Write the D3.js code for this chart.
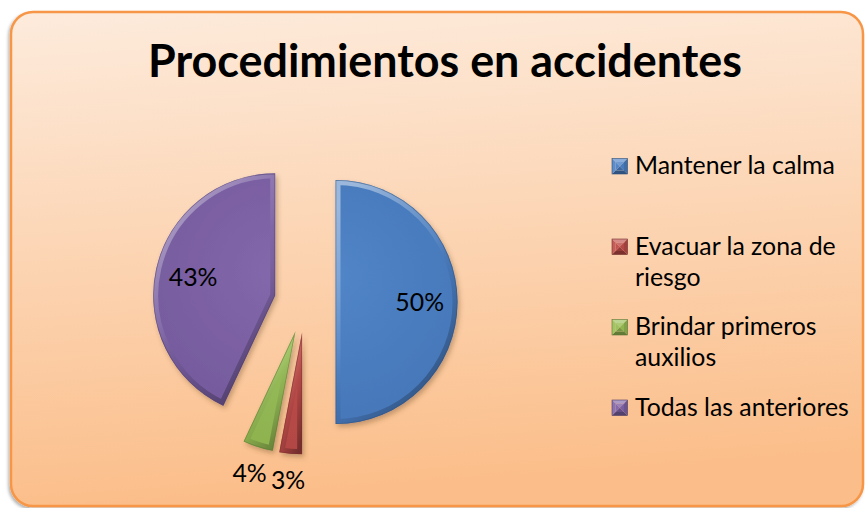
<!DOCTYPE html>
<html>
<head>
<meta charset="utf-8">
<script src="https://cdn.jsdelivr.net/npm/d3@7"></script>
<style>
  html, body { margin: 0; padding: 0; background: #ffffff; }
  svg { display: block; }
</style>
</head>
<body>
<svg id="chart" width="865" height="508"></svg>
<script>
// Survey answers: what to do in case of an accident
const categories = [
  "Mantener la calma",
  "Evacuar la zona de riesgo",
  "Brindar primeros auxilios",
  "Todas las anteriores"
];
const values = [50, 3, 4, 43];
const colors = ["#4A80C6", "#BE4B48", "#97BE55", "#7E62A8"];
const title = "Procedimientos en accidentes";

const W = 865, H = 508;
const FONT = "Lato, 'Open Sans', 'DejaVu Sans', sans-serif";

const svg = d3.select("#chart");
const defs = svg.append("defs");

// ---- background panel -------------------------------------------------
const bg = defs.append("linearGradient").attr("id", "bgGrad")
  .attr("x1", 0).attr("y1", 0).attr("x2", 0.12).attr("y2", 1);
bg.append("stop").attr("offset", 0).attr("stop-color", "#FDEBDC");
bg.append("stop").attr("offset", 1).attr("stop-color", "#FBBE8A");

const panelShadow = defs.append("filter").attr("id", "panelShadow")
  .attr("x", -0.05).attr("y", -0.05).attr("width", 1.1).attr("height", 1.1);
panelShadow.append("feDropShadow").attr("dx", -1.5).attr("dy", 2)
  .attr("stdDeviation", 1.6).attr("flood-color", "#000").attr("flood-opacity", 0.3);

svg.append("rect")
  .attr("x", 11).attr("y", 12).attr("width", 852).attr("height", 494)
  .attr("rx", 22).attr("ry", 22)
  .attr("fill", "url(#bgGrad)")
  .attr("stroke", "#F79646").attr("stroke-width", 2.5)
  .attr("filter", "url(#panelShadow)");

// ---- helpers ---------------------------------------------------------
function fitSize(text, weight, targetWidth) {
  const t = svg.append("text").attr("font-family", FONT).attr("font-weight", weight)
    .attr("font-size", 100).text(text);
  const w = t.node().getComputedTextLength();
  t.remove();
  return 100 * targetWidth / w;
}
function shade(c, k) {
  // k > 0 lightens toward white, k < 0 darkens toward black
  const col = d3.rgb(c);
  const t = k > 0 ? 255 : 0, a = Math.abs(k);
  return d3.rgb(col.r + (t - col.r) * a, col.g + (t - col.g) * a, col.b + (t - col.b) * a).formatHex();
}

// ---- title -----------------------------------------------------------
const titleSize = fitSize(title, "bold", 594);
svg.append("text")
  .attr("x", 445).attr("y", 77)
  .attr("text-anchor", "middle")
  .attr("font-family", FONT).attr("font-weight", "bold")
  .attr("font-size", titleSize)
  .attr("fill", "#000")
  .text(title);

// ---- exploded pie ----------------------------------------------------
const cx = 305, cy = 302, R = 122, explode = 30.5;
const labelSize = fitSize(categories[0], "normal", 200);

const pie = d3.pie().sort(null).value(d => d.value).startAngle(0).endAngle(2 * Math.PI);
const arc = d3.arc().innerRadius(0).outerRadius(R);
const data = categories.map((name, i) => ({ name, value: values[i], color: colors[i] }));
const arcs = pie(data);

const sliceShadow = defs.append("filter").attr("id", "sliceShadow")
  .attr("x", -0.3).attr("y", -0.3).attr("width", 1.6).attr("height", 1.6);
sliceShadow.append("feDropShadow").attr("dx", 2).attr("dy", 3)
  .attr("stdDeviation", 2.5).attr("flood-color", "#5a3a1a").attr("flood-opacity", 0.35);

// bevel: light rim at top, dark rim at bottom
const rim = defs.append("linearGradient").attr("id", "rimGrad")
  .attr("x1", 0.2).attr("y1", 0).attr("x2", 0.8).attr("y2", 1);
rim.append("stop").attr("offset", 0).attr("stop-color", "#fff").attr("stop-opacity", 0.45);
rim.append("stop").attr("offset", 0.45).attr("stop-color", "#fff").attr("stop-opacity", 0.08);
rim.append("stop").attr("offset", 0.6).attr("stop-color", "#000").attr("stop-opacity", 0.05);
rim.append("stop").attr("offset", 1).attr("stop-color", "#000").attr("stop-opacity", 0.35);

const pieG = svg.append("g").attr("transform", `translate(${cx},${cy})`);

arcs.forEach((a, i) => {
  const mid = (a.startAngle + a.endAngle) / 2;
  const ox = explode * Math.sin(mid), oy = -explode * Math.cos(mid);
  const g = pieG.append("g").attr("transform", `translate(${ox},${oy})`);
  const path = arc(a);

  defs.append("clipPath").attr("id", "clip" + i).append("path").attr("d", path);

  // face color with a gentle radial sheen
  const face = defs.append("radialGradient").attr("id", "face" + i)
    .attr("gradientUnits", "userSpaceOnUse")
    .attr("cx", 0).attr("cy", -R * 0.2).attr("r", R * 1.1);
  face.append("stop").attr("offset", 0).attr("stop-color", shade(a.data.color, 0.04));
  face.append("stop").attr("offset", 1).attr("stop-color", shade(a.data.color, -0.06));

  g.append("path").attr("d", path)
    .attr("fill", `url(#face${i})`)
    .attr("filter", "url(#sliceShadow)");

  const bevel = g.append("g").attr("clip-path", `url(#clip${i})`);
  bevel.append("path").attr("d", path)
    .attr("fill", "none")
    .attr("stroke", "url(#rimGrad)")
    .attr("stroke-width", 10)
    .attr("stroke-linejoin", "round");
  bevel.append("path").attr("d", path)
    .attr("fill", "none")
    .attr("stroke", shade(a.data.color, -0.35))
    .attr("stroke-opacity", 0.6)
    .attr("stroke-width", 1.6);

  // value label: inside for large slices, outside for thin ones
  const inside = a.data.value >= 10;
  const dist = inside ? R * 0.69 : R * 1.22;
  const lx = ox + dist * Math.sin(mid), ly = oy - dist * Math.cos(mid);
  pieG.append("text")
    .attr("x", lx).attr("y", ly).attr("dy", "0.36em")
    .attr("text-anchor", "middle")
    .attr("font-family", FONT).attr("font-size", labelSize)
    .attr("fill", "#000")
    .text(a.data.value + "%");
});

// ---- legend ----------------------------------------------------------
const legX = 612, legTextX = 635, legY0 = 174, legStep = 80.5, lineH = 31, box = 15.5;
const maxLine = 226;
const legend = svg.append("g");

data.forEach((d, i) => {
  const base = legY0 + i * legStep;
  const g = legend.append("g");

  // beveled square marker: four facets meeting at the centre
  const x0 = legX, y0 = base - box, x1 = legX + box, y1 = base;
  const mx = (x0 + x1) / 2, my = (y0 + y1) / 2, inset = 3.5;
  const ix0 = x0 + inset, iy0 = y0 + inset, ix1 = x1 - inset, iy1 = y1 - inset;
  const facets = [
    { pts: [[x0, y0], [x1, y0], [ix1, iy0], [ix0, iy0]], k: 0.35 },
    { pts: [[x1, y0], [x1, y1], [ix1, iy1], [ix1, iy0]], k: -0.15 },
    { pts: [[x1, y1], [x0, y1], [ix0, iy1], [ix1, iy1]], k: -0.35 },
    { pts: [[x0, y1], [x0, y0], [ix0, iy0], [ix0, iy1]], k: 0.1 }
  ];
  facets.forEach(f => {
    g.append("polygon").attr("points", f.pts.map(p => p.join(",")).join(" "))
      .attr("fill", shade(d.color, f.k));
  });
  // centre of the marker: small pyramid
  [[[ix0, iy0], [ix1, iy0], [mx, my], 0.2], [[ix1, iy0], [ix1, iy1], [mx, my], -0.05],
   [[ix1, iy1], [ix0, iy1], [mx, my], -0.2], [[ix0, iy1], [ix0, iy0], [mx, my], 0.05]]
    .forEach(t => {
      g.append("polygon").attr("points", t.slice(0, 3).map(p => p.join(",")).join(" "))
        .attr("fill", shade(d.color, t[3]));
    });
  g.append("rect").attr("x", x0).attr("y", y0).attr("width", box).attr("height", box)
    .attr("fill", "none").attr("stroke", shade(d.color, -0.4)).attr("stroke-width", 0.6);

  // wrapped label text
  const text = g.append("text")
    .attr("font-family", FONT).attr("font-size", labelSize).attr("fill", "#000");
  const words = d.name.split(" ");
  let line = [], lineNo = 0;
  let tspan = text.append("tspan").attr("x", legTextX).attr("y", base);
  words.forEach(w => {
    line.push(w);
    tspan.text(line.join(" "));
    if (tspan.node().getComputedTextLength() > maxLine && line.length > 1) {
      line.pop();
      tspan.text(line.join(" "));
      line = [w];
      lineNo++;
      tspan = text.append("tspan").attr("x", legTextX).attr("y", base + lineNo * lineH).text(w);
    }
  });
});
</script>
</body>
</html>
